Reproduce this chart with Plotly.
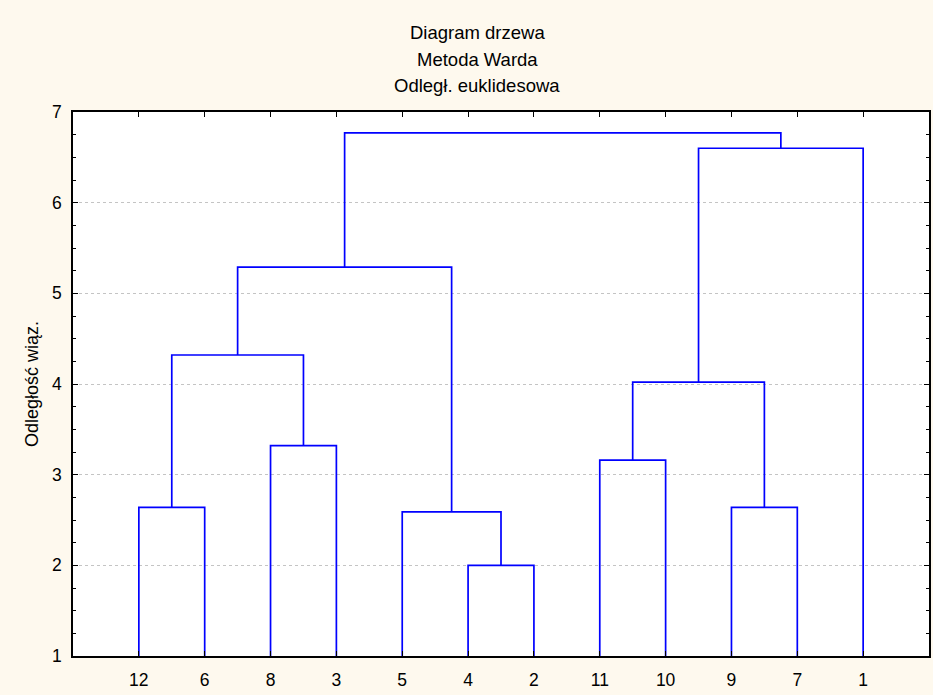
import plotly.graph_objects as go

# Leaf order along the x axis (object numbers)
leaf_labels = ["12", "6", "8", "3", "5", "4", "2", "11", "10", "9", "7", "1"]

# Agglomeration steps: (left child, right child, linkage distance)
# children are leaf labels or indices of earlier steps ("s0", "s1", ...)
merges = [
    ("4", "2", 2.00),      # s0
    ("5", "s0", 2.59),     # s1
    ("12", "6", 2.64),     # s2
    ("9", "7", 2.64),      # s3
    ("11", "10", 3.16),    # s4
    ("8", "3", 3.32),      # s5
    ("s4", "s3", 4.02),    # s6
    ("s2", "s5", 4.32),    # s7
    ("s7", "s1", 5.29),    # s8
    ("s6", "1", 6.60),     # s9
    ("s8", "s9", 6.77),    # s10
]

title_lines = ["Diagram drzewa", "Metoda Warda", "Odległ. euklidesowa"]
y_title = "Odległość wiąz."

BASE = 1.0
leaf_pos = {lab: i + 1 for i, lab in enumerate(leaf_labels)}
node_pos = {}
node_h = {}
for lab, p in leaf_pos.items():
    node_pos[lab] = p
    node_h[lab] = BASE

xs, ys = [], []
for k, (a, b, h) in enumerate(merges):
    xa, xb = node_pos[a], node_pos[b]
    ha, hb = node_h[a], node_h[b]
    xs += [xa, xa, xb, xb, None]
    ys += [ha, h, h, hb, None]
    key = f"s{k}"
    node_pos[key] = (xa + xb) / 2
    node_h[key] = h

FONT = "Liberation Sans, Arial, sans-serif"
W, H = 933, 695
ML, MR, MT, MB = 73, 2, 112, 39
plot_w = W - ML - MR
plot_h = H - MT - MB

fig = go.Figure()
fig.add_trace(go.Scatter(
    x=xs, y=ys, mode="lines",
    line=dict(color="#0000FF", width=1.7),
    hoverinfo="skip", showlegend=False,
))

fig.update_layout(
    width=W, height=H,
    margin=dict(l=ML, r=MR, t=MT, b=MB),
    paper_bgcolor="#FEF9EE",
    plot_bgcolor="#FFFFFF",
    font=dict(family=FONT, size=17, color="#000000"),
    showlegend=False,
)

fig.update_xaxes(
    range=[0, 13],
    tickmode="array",
    tickvals=list(leaf_pos.values()),
    ticktext=leaf_labels,
    ticks="inside", ticklen=5, tickcolor="#000000", tickwidth=1,
    showline=True, linecolor="#000000", linewidth=1.5,
    mirror="ticks",
    showgrid=False, zeroline=False,
    ticklabelstandoff=7,
    tickfont=dict(family=FONT, size=17.5),
)

fig.update_yaxes(
    range=[1, 7],
    tickmode="linear", tick0=1, dtick=1,
    ticks="inside", ticklen=5, tickcolor="#000000", tickwidth=1,
    minor=dict(dtick=0.25, ticks="inside", ticklen=3, tickcolor="#000000",
               showgrid=False),
    showline=True, linecolor="#000000", linewidth=1.5,
    mirror="ticks",
    showgrid=True, gridcolor="#C4C4C4", griddash="dot", gridwidth=1,
    zeroline=False,
    ticklabelstandoff=6,
    tickfont=dict(family=FONT, size=17.5),
)

# Y axis title placed beside the tick labels
fig.add_annotation(
    text=y_title, xref="paper", yref="paper",
    x=(32 - ML) / plot_w, y=0.5, textangle=-90,
    xanchor="center", yanchor="middle", showarrow=False,
    font=dict(family=FONT, size=18, color="#000000"),
)

# Three-line chart title
for text, yc in zip(title_lines, [33, 59, 86]):
    fig.add_annotation(
        text=text, xref="paper", yref="paper",
        x=(478 - ML) / plot_w, y=1 + (MT - yc) / plot_h,
        xanchor="center", yanchor="middle", showarrow=False,
        font=dict(family=FONT, size=18.5, color="#000000"),
    )

fig.write_html("out.html")
